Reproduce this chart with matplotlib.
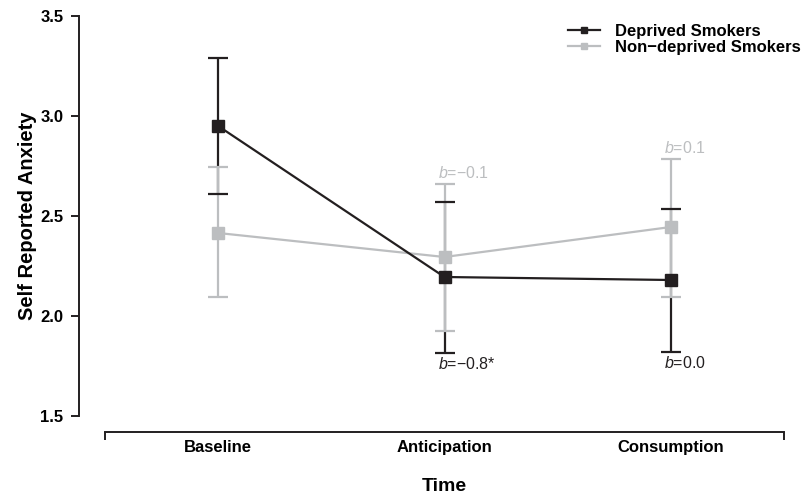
import matplotlib.pyplot as plt
from matplotlib.lines import Line2D

plt.rcParams['font.family'] = ['Liberation Sans', 'DejaVu Sans']
plt.rcParams['font.weight'] = 'bold'
plt.rcParams['axes.labelweight'] = 'bold'
plt.rcParams['mathtext.fontset'] = 'custom'
plt.rcParams['mathtext.it'] = 'Liberation Sans:style=italic:weight=normal'
plt.rcParams['mathtext.rm'] = 'Liberation Sans:weight=normal'

# data
times = ['Baseline', 'Anticipation', 'Consumption']
dep_mean = [2.95, 2.195, 2.18]
dep_upper = [3.29, 2.57, 2.535]
dep_lower = [2.61, 1.815, 1.82]
non_mean = [2.415, 2.295, 2.445]
non_upper = [2.745, 2.66, 2.785]
non_lower = [2.095, 1.925, 2.095]
dep_labels = ['', '=\u22120.8*', '=0.0']
non_labels = ['', '=\u22120.1', '=0.1']
series_names = ['Deprived Smokers', 'Non\u2212deprived Smokers']

black = '#231f20'
gray = '#bcbec0'

x = list(range(1, len(times) + 1))

fig = plt.figure(figsize=(8.1, 4.97), dpi=100)
ax = fig.add_axes([105 / 810, 1 - 416 / 497, 679 / 810, 400 / 497])

dep_err = [[m - l for m, l in zip(dep_mean, dep_lower)],
           [u - m for m, u in zip(dep_mean, dep_upper)]]
non_err = [[m - l for m, l in zip(non_mean, non_lower)],
           [u - m for m, u in zip(non_mean, non_upper)]]

# black bars at the bottom, gray bars over them, black caps/line on top
d_line, d_caps, d_bars = ax.errorbar(x, dep_mean, yerr=dep_err, color=black, lw=1.6,
                                     marker='s', ms=8, capsize=7, capthick=1.6,
                                     elinewidth=1.6)
n_line, n_caps, n_bars = ax.errorbar(x, non_mean, yerr=non_err, color=gray, lw=1.6,
                                     marker='s', ms=8, capsize=7, capthick=1.6,
                                     elinewidth=1.6)
for b in d_bars:
    b.set_zorder(2)
for b in n_bars:
    b.set_zorder(3)
for c in n_caps:
    c.set_zorder(3)
n_line.set_zorder(3.5)
for c in d_caps:
    c.set_zorder(4)
d_line.set_zorder(5)

for xi, lab, v in zip(x, dep_labels, dep_lower):
    if lab:
        ax.annotate('$b$' + lab, (xi, v), xytext=(-5, -2), textcoords='offset points',
                    ha='left', va='top', fontsize=11.5, fontweight='normal', color=black)
for xi, lab, v in zip(x, non_labels, non_upper):
    if lab:
        ax.annotate('$b$' + lab, (xi, v), xytext=(-5, 2), textcoords='offset points',
                    ha='left', va='bottom', fontsize=11.5, fontweight='normal', color=gray)

ax.set_xlim(0.5, 3.5)
ax.set_ylim(1.5, 3.5)
ax.set_yticks([1.5, 2.0, 2.5, 3.0, 3.5])
ax.set_yticklabels(['1.5', '2.0', '2.5', '3.0', '3.5'])
ax.set_xticks([0.5, 3.5])
ax.set_xticklabels(['', ''])
ax.set_xticks(x, minor=True)
ax.set_xticklabels(times, minor=True)
ax.tick_params(axis='x', which='minor', length=0, pad=6, labelsize=12)
ax.tick_params(axis='x', which='major', length=6, width=1.4, color=black)
ax.tick_params(axis='y', length=6, width=1.4, color=black, pad=5, labelsize=12)

for s in ['top', 'right']:
    ax.spines[s].set_visible(False)
ax.spines['left'].set_position(('outward', 19))
ax.spines['bottom'].set_position(('outward', 11.5))
ax.spines['left'].set_linewidth(1.4)
ax.spines['bottom'].set_linewidth(1.4)
ax.spines['left'].set_color(black)
ax.spines['bottom'].set_color(black)

ax.set_xlabel('Time', fontsize=14, labelpad=16)
ax.set_ylabel('Self Reported Anxiety', fontsize=14.5, labelpad=2)

handles = [Line2D([], [], color=black, lw=1.6, marker='s', ms=5),
           Line2D([], [], color=gray, lw=1.6, marker='s', ms=5)]
fig.legend(handles, series_names, loc='upper left', bbox_to_anchor=(568 / 810, 1 - 24 / 497),
           frameon=False, prop={'weight': 'bold', 'size': 12}, handlelength=1.9,
           handletextpad=0.9, labelspacing=0.05, borderpad=0, borderaxespad=0)

fig.savefig('out.png', dpi=100)
